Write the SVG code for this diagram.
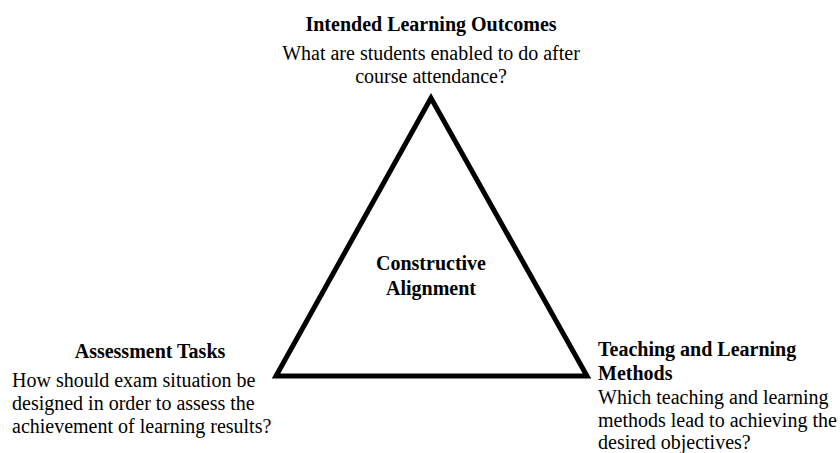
<svg xmlns="http://www.w3.org/2000/svg" width="840" height="453" viewBox="0 0 840 453">
<style>
text{font-family:"Liberation Serif","Times New Roman",serif;font-size:20px;fill:#000}
.b{font-weight:bold}
.m{text-anchor:middle}
</style>
<rect width="840" height="453" fill="#fff"/>
<g id="connectors">
<polygon points="431,98 276,376 587,376" fill="none" stroke="#000" stroke-width="5" stroke-linejoin="miter"/>
</g>
<g id="center">
<text class="b m" x="431" y="270">Constructive</text>
<text class="b m" x="431" y="295">Alignment</text>
</g>
<g id="ilo">
<text class="b m" x="431" y="31">Intended Learning Outcomes</text>
<text class="m" x="431" y="60">What are students enabled to do after</text>
<text class="m" x="431" y="83">course attendance?</text>
</g>
<g id="assessment">
<text class="b m" x="150" y="358">Assessment Tasks</text>
<text x="12" y="387">How should exam situation be</text>
<text x="12" y="410">designed in order to assess the</text>
<text x="12" y="433">achievement of learning results?</text>
</g>
<g id="teaching">
<text class="b" x="598" y="356">Teaching and Learning</text>
<text class="b" x="598" y="380">Methods</text>
<text x="598" y="404">Which teaching and learning</text>
<text x="598" y="427">methods lead to achieving the</text>
<text x="598" y="449">desired objectives?</text>
</g>
</svg>
